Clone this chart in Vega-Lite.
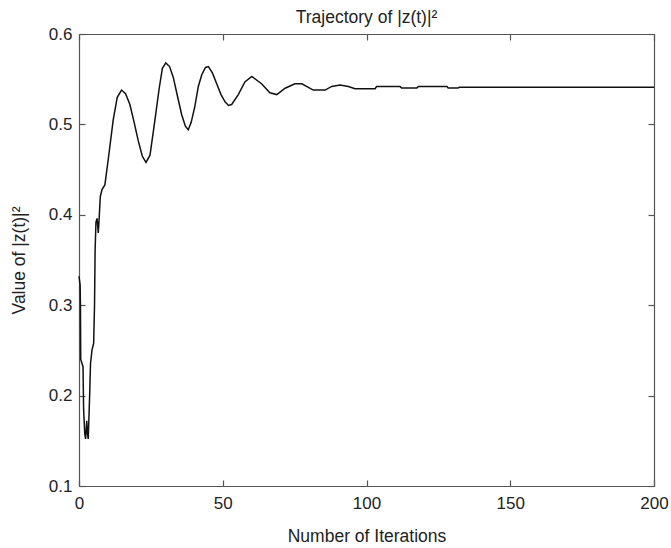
{
  "$schema": "https://vega.github.io/schema/vega-lite/v6.json",
  "width": 575,
  "height": 452,
  "autosize": "none",
  "padding": {"left": 79, "top": 34, "right": 17, "bottom": 62},
  "background": "white",
  "title": {"text": "Trajectory of |z(t)|²", "fontSize": 17.5, "fontWeight": "normal", "font": "Liberation Sans", "color": "#222222", "offset": 11, "dy": 12, "anchor": "middle"},
  "config": {
    "view": {"stroke": null},
    "axis": {
      "labelFont": "Liberation Sans",
      "titleFont": "Liberation Sans",
      "labelFontSize": 17,
      "titleFontSize": 17.5,
      "titleFontWeight": "normal",
      "labelColor": "#222222",
      "titleColor": "#222222",
      "domainColor": "#555555",
      "domainWidth": 1.2,
      "tickColor": "#555555",
      "tickWidth": 1.2,
      "tickSize": -6,
      "grid": false
    }
  },
  "data": {"values": [
    {"iter": 0, "value": 0.332},
    {"iter": 0.4, "value": 0.322},
    {"iter": 0.5, "value": 0.300},
    {"iter": 0.6, "value": 0.240},
    {"iter": 1.4, "value": 0.232},
    {"iter": 1.6, "value": 0.185},
    {"iter": 2.0, "value": 0.158},
    {"iter": 2.3, "value": 0.152},
    {"iter": 2.7, "value": 0.172},
    {"iter": 2.9, "value": 0.160},
    {"iter": 3.2, "value": 0.152},
    {"iter": 3.5, "value": 0.180},
    {"iter": 3.7, "value": 0.200},
    {"iter": 4.0, "value": 0.235},
    {"iter": 4.5, "value": 0.250},
    {"iter": 5.1, "value": 0.258},
    {"iter": 5.4, "value": 0.300},
    {"iter": 5.6, "value": 0.360},
    {"iter": 5.9, "value": 0.392},
    {"iter": 6.3, "value": 0.396},
    {"iter": 6.7, "value": 0.380},
    {"iter": 7.0, "value": 0.395},
    {"iter": 7.4, "value": 0.420},
    {"iter": 8.0, "value": 0.428},
    {"iter": 9.0, "value": 0.433},
    {"iter": 10.2, "value": 0.462},
    {"iter": 11.9, "value": 0.505},
    {"iter": 13.3, "value": 0.530},
    {"iter": 14.8, "value": 0.538},
    {"iter": 16.2, "value": 0.534},
    {"iter": 17.7, "value": 0.522},
    {"iter": 19.2, "value": 0.502},
    {"iter": 20.6, "value": 0.482},
    {"iter": 22.0, "value": 0.465},
    {"iter": 23.3, "value": 0.458},
    {"iter": 24.7, "value": 0.466},
    {"iter": 26.2, "value": 0.500},
    {"iter": 27.9, "value": 0.540},
    {"iter": 29.0, "value": 0.562},
    {"iter": 30.2, "value": 0.568},
    {"iter": 31.5, "value": 0.564},
    {"iter": 32.8, "value": 0.552},
    {"iter": 34.2, "value": 0.532},
    {"iter": 35.7, "value": 0.511},
    {"iter": 37.0, "value": 0.498},
    {"iter": 38.0, "value": 0.494},
    {"iter": 39.0, "value": 0.502},
    {"iter": 40.3, "value": 0.520},
    {"iter": 41.5, "value": 0.542},
    {"iter": 42.7, "value": 0.555},
    {"iter": 44.0, "value": 0.563},
    {"iter": 45.0, "value": 0.564},
    {"iter": 46.4, "value": 0.557},
    {"iter": 47.9, "value": 0.545},
    {"iter": 49.4, "value": 0.533},
    {"iter": 50.8, "value": 0.525},
    {"iter": 52.0, "value": 0.521},
    {"iter": 53.1, "value": 0.522},
    {"iter": 55.4, "value": 0.533},
    {"iter": 57.7, "value": 0.547},
    {"iter": 60.1, "value": 0.553},
    {"iter": 63.5, "value": 0.545},
    {"iter": 66.4, "value": 0.535},
    {"iter": 68.8, "value": 0.533},
    {"iter": 71.7, "value": 0.540},
    {"iter": 75.1, "value": 0.545},
    {"iter": 77.5, "value": 0.545},
    {"iter": 81.5, "value": 0.538},
    {"iter": 85.6, "value": 0.538},
    {"iter": 87.9, "value": 0.542},
    {"iter": 90.8, "value": 0.5436},
    {"iter": 93.7, "value": 0.542},
    {"iter": 96.0, "value": 0.5395},
    {"iter": 103.0, "value": 0.5395},
    {"iter": 103.5, "value": 0.5418},
    {"iter": 111.7, "value": 0.5418},
    {"iter": 112.2, "value": 0.5402},
    {"iter": 117.5, "value": 0.5402},
    {"iter": 118.0, "value": 0.5418},
    {"iter": 128.0, "value": 0.5418},
    {"iter": 128.4, "value": 0.5402},
    {"iter": 131.8, "value": 0.5402},
    {"iter": 132.3, "value": 0.541},
    {"iter": 160.0, "value": 0.541},
    {"iter": 200.0, "value": 0.541}
  ]},
  "layer": [
    {
      "mark": {"type": "line", "color": "#111111", "strokeWidth": 1.5},
      "encoding": {
        "x": {"field": "iter", "type": "quantitative",
              "scale": {"domain": [0, 200], "nice": false, "zero": false},
              "axis": {"orient": "bottom", "values": [0, 50, 100, 150, 200], "title": "Number of Iterations", "labelPadding": 15, "titlePadding": 16, "labelFlush": false}},
        "y": {"field": "value", "type": "quantitative",
              "scale": {"domain": [0.1, 0.6], "nice": false, "zero": false},
              "axis": {"orient": "left", "values": [0.1, 0.2, 0.3, 0.4, 0.5, 0.6], "format": ".1f", "title": "Value of |z(t)|²", "labelPadding": 13, "titlePadding": 20, "labelFlush": false}}
      }
    },
    {
      "mark": {"type": "line", "strokeOpacity": 0},
      "encoding": {
        "x": {"field": "iter", "type": "quantitative",
              "scale": {"domain": [0, 200], "nice": false, "zero": false},
              "axis": {"orient": "top", "values": [0, 50, 100, 150, 200], "labels": false, "title": null}},
        "y": {"field": "value", "type": "quantitative",
              "scale": {"domain": [0.1, 0.6], "nice": false, "zero": false},
              "axis": {"orient": "right", "values": [0.1, 0.2, 0.3, 0.4, 0.5, 0.6], "labels": false, "title": null}}
      }
    }
  ],
  "resolve": {"axis": {"x": "independent", "y": "independent"}}
}
